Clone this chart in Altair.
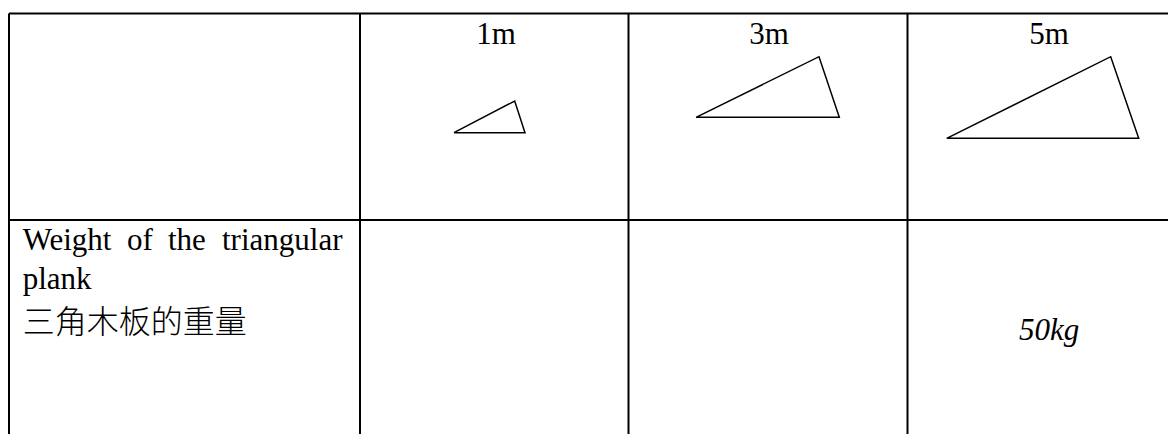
import altair as alt
import pandas as pd

# ---- table structure (page pixel space) ----
col_edges = [9, 360, 628.5, 907.5]
row_edges = [13.5, 220]
table_right = 1176
table_bottom = 442

# ---- header labels ----
headers = ["1m", "3m", "5m"]
header_x = [496, 769, 1049]
header_y = 44

# ---- triangles (vertex coordinates) ----
tri_ids = ["1m", "3m", "5m"]
tri_x = [[454, 514.7, 525], [696, 819, 839.3], [946.7, 1110.7, 1138.7]]
tri_y = [[132.7, 101, 132.7], [117.3, 56.7, 117.3], [138.3, 56.7, 138.3]]

# ---- row label ----
label_words = ["Weight", "of", "the", "triangular"]
label_word_x = [22.7, 127, 168, 222]
label_line1_y = 249.5
label_line2 = "plank"
label_line2_y = 288.5
label_cn = "三角木板的重量"
label_cn_y = 333

# ---- value ----
value_text = "50kg"
value_x = 1049
value_y = 339.5

W, H = 1160, 426
xs = alt.Scale(domain=[8, 8 + W], nice=False, zero=False)
ys = alt.Scale(domain=[8, 8 + H], nice=False, zero=False, reverse=True)

def X(f):
    return alt.X(f, type="quantitative", scale=xs, axis=None)

def Y(f):
    return alt.Y(f, type="quantitative", scale=ys, axis=None)

# lines of the table
rules = []
for c in col_edges:
    rules.append({"x": c, "x2": c, "y": row_edges[0], "y2": table_bottom})
for r in row_edges:
    rules.append({"x": col_edges[0], "x2": table_right, "y": r, "y2": r})
rules_df = pd.DataFrame(rules)

grid = alt.Chart(rules_df).mark_rule(color="black", strokeWidth=2).encode(
    x=X("x"), x2="x2", y=Y("y"), y2="y2"
)

tri_rows = []
for tid, xsv, ysv in zip(tri_ids, tri_x, tri_y):
    pts = list(zip(xsv, ysv)) + [(xsv[0], ysv[0])]
    for i, (px, py) in enumerate(pts):
        tri_rows.append({"id": tid, "o": i, "x": px, "y": py})
tri_df = pd.DataFrame(tri_rows)

tris = alt.Chart(tri_df).mark_line(color="black", strokeWidth=1.5, strokeJoin="miter").encode(
    x=X("x"), y=Y("y"), detail="id:N", order="o:Q"
)

serif = "Liberation Serif"
fs = 31

head_df = pd.DataFrame({"t": headers, "x": header_x, "y": [header_y] * 3})
head = alt.Chart(head_df).mark_text(
    font=serif, fontSize=fs, align="center", baseline="alphabetic", color="black"
).encode(x=X("x"), y=Y("y"), text="t:N")

w_df = pd.DataFrame({"t": label_words, "x": label_word_x, "y": [label_line1_y] * 4})
words = alt.Chart(w_df).mark_text(
    font=serif, fontSize=fs, align="left", baseline="alphabetic", color="black"
).encode(x=X("x"), y=Y("y"), text="t:N")

l2_df = pd.DataFrame({"t": [label_line2], "x": [label_word_x[0]], "y": [label_line2_y]})
line2 = alt.Chart(l2_df).mark_text(
    font=serif, fontSize=fs, align="left", baseline="alphabetic", color="black"
).encode(x=X("x"), y=Y("y"), text="t:N")

cn_df = pd.DataFrame({"t": [label_cn], "x": [label_word_x[0]], "y": [label_cn_y]})
cn = alt.Chart(cn_df).mark_text(
    font="Noto Sans CJK SC", fontSize=32, fontWeight=300, align="left", baseline="alphabetic", color="black"
).encode(x=X("x"), y=Y("y"), text="t:N")

v_df = pd.DataFrame({"t": [value_text], "x": [value_x], "y": [value_y]})
val = alt.Chart(v_df).mark_text(
    font=serif, fontSize=fs, fontStyle="italic", align="center", baseline="alphabetic", color="black"
).encode(x=X("x"), y=Y("y"), text="t:N")

chart = alt.layer(grid, tris, head, words, line2, cn, val).properties(
    width=W, height=H, padding=0, background="white",
    autosize=alt.AutoSizeParams(type="none")
).configure_view(stroke=None)

chart.save("out.html", embed_options={"renderer": "svg", "actions": False})
